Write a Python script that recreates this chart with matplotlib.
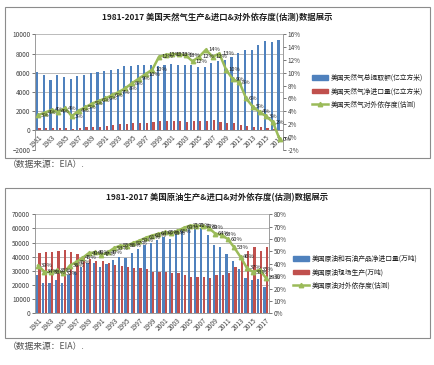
import matplotlib
matplotlib.use("Agg")
import matplotlib.pyplot as plt
import numpy as np
from matplotlib.patches import Rectangle
from matplotlib.lines import Line2D
from matplotlib.patches import Patch

plt.rcParams['font.family'] = ['Noto Sans CJK SC', 'DejaVu Sans']

years = list(range(1981, 2018))

# 天然气 (亿立方米, %)
gas_output = [6110, 5750, 5290, 5740, 5550, 5400, 5690, 5800, 5960, 6090,
              6150, 6250, 6430, 6670, 6710, 6820, 6850, 6820, 6720, 6840,
              6930, 6780, 6830, 6780, 6640, 6650, 6980, 7250, 7375, 7590,
              8070, 8360, 8350, 8890, 9310, 9250, 9430]
gas_import = [255, 263, 260, 224, 252, 195, 266, 345, 359, 410,
              464, 543, 625, 696, 761, 787, 804, 846, 968, 1002,
              1019, 990, 923, 962, 1022, 979, 1073, 843, 758, 736,
              555, 430, 371, 331, 269, 190, -40]
gas_dep = [3.4, 3.8, 4.2, 3.9, 4.5, 3.2, 4.1, 4.6, 5.2, 5.6,
           6.0, 6.5, 7.0, 7.6, 8.4, 9.1, 9.8, 10.5, 12.5, 12.8,
           12.9, 12.9, 12.7, 11.8, 12.5, 13.6, 12.5, 13.0, 10.5, 9.0,
           8.5, 6.0, 4.7, 3.9, 3.2, 2.3, -0.4]

# 原油 (万吨, %)
oil_import = [26900, 21400, 21500, 23500, 21400, 27100, 29400, 32800, 35900, 35700,
              33000, 34600, 37900, 40100, 39300, 42300, 45600, 48600, 49400, 51900,
              54300, 52500, 56000, 60300, 62500, 61700, 60000, 55300, 48200, 47000,
              42100, 36800, 31100, 25200, 23500, 23900, 18800]
oil_output = [42850, 43250, 43450, 44400, 44850, 43400, 41750, 40700, 38050, 36800,
              37100, 35850, 34250, 33300, 32800, 32300, 32250, 31250, 29400, 29100,
              29000, 28700, 28250, 27200, 25900, 25450, 25400, 25000, 26750, 27400,
              28250, 32500, 37350, 43800, 47150, 44150, 46750]
oil_dep = [38.6, 33.5, 33.1, 34.6, 32.3, 38.5, 41.4, 44.7, 48.6, 49.3,
           47.2, 49.2, 52.7, 54.7, 54.6, 56.8, 58.7, 61.0, 62.8, 64.2,
           65.3, 64.8, 66.5, 69.0, 70.8, 70.9, 70.3, 69.0, 64.4, 63.3,
           59.9, 53.2, 45.5, 36.7, 33.3, 35.2, 28.7]

W, H = 435, 365
BLUE = '#4F81BD'
RED = '#C0504D'
GREEN = '#9BBB59'
GRID = '#B0B0B0'
TXT = '#404040'

fig = plt.figure(figsize=(W / 100, H / 100), dpi=100)


def rect(x0, y0, x1, y1):
    # pixel box (top-left origin) -> figure fraction
    return [x0 / W, 1 - y1 / H, (x1 - x0) / W, (y1 - y0) / H]


def panel(frame, plot, title, title_y, b1, b2, dep, names, ylim, ystep, rlim, rstep,
          leg_xy, bw):
    fr = rect(*frame)
    fig.add_artist(Rectangle(fr[:2], fr[2], fr[3], transform=fig.transFigure,
                             fill=False, edgecolor='#8C8C8C', lw=0.8))
    fig.text((frame[0] + frame[2]) / 2 / W, 1 - title_y / H, title, ha='center', va='center',
             fontsize=6, fontweight='bold', color='#202020')

    ax = fig.add_axes(rect(*plot))
    x = np.arange(len(years))
    ax.bar(x - bw / 2 - 0.02, b1, width=bw, color=BLUE, zorder=2)
    ax.bar(x + bw / 2 + 0.02, b2, width=bw, color=RED, zorder=2)
    ax.set_xlim(-0.5, len(years) - 0.5)
    ax.set_ylim(*ylim)
    ax.set_yticks(np.arange(ylim[0], ylim[1] + 1, ystep))
    ax.yaxis.grid(True, color=GRID, lw=0.6, zorder=0)
    ax.set_axisbelow(True)
    for s in ['top', 'right']:
        ax.spines[s].set_visible(False)
    ax.spines['left'].set_color('#8C8C8C')
    ax.spines['left'].set_linewidth(0.6)
    ax.spines['bottom'].set_position(('data', 0))
    ax.spines['bottom'].set_color('#8C8C8C')
    ax.spines['bottom'].set_linewidth(0.6)
    # tick labels after moving the spine (moving it resets the ticks)
    ax.tick_params(axis='y', labelsize=4.6, colors=TXT, length=2, width=0.5, pad=1.5)
    ax.set_xticks(x[::2])
    ax.set_xticklabels(years[::2])
    ax.tick_params(axis='x', labelsize=4.8, colors=TXT, length=0, pad=2)
    plt.setp(ax.get_xticklabels(), rotation=45, ha='right', va='top', rotation_mode='anchor')

    ax2 = ax.twinx()
    ax2.plot(x, dep, color=GREEN, lw=1.8, marker='^', ms=3.2, zorder=3)
    for xi, v in zip(x, dep):
        ax2.annotate(f"{int(round(v))}%", (xi, v), xytext=(2, 0), textcoords='offset points',
                     fontsize=4.2, va='center', ha='left', color='#202020')
    ax2.set_ylim(*rlim)
    ticks = np.arange(rlim[0], rlim[1] + 0.01, rstep)
    ax2.set_yticks(ticks)
    ax2.set_yticklabels([f"{int(round(t))}%" for t in ticks])
    ax2.tick_params(axis='y', labelsize=4.6, colors=TXT, length=2, width=0.5, pad=1.5)
    for s in ['top', 'left', 'bottom']:
        ax2.spines[s].set_visible(False)
    ax2.spines['right'].set_color('#8C8C8C')
    ax2.spines['right'].set_linewidth(0.6)

    handles = [Patch(color=BLUE), Patch(color=RED),
               Line2D([], [], color=GREEN, lw=1.8, marker='^', ms=3.2)]
    fig.legend(handles, names, loc='upper left', bbox_to_anchor=(leg_xy[0] / W, 1 - leg_xy[1] / H),
               frameon=False, fontsize=4.9, handlelength=2.3, handleheight=0.6,
               handletextpad=0.4, labelspacing=0.75, borderpad=0, borderaxespad=0,
               labelcolor='#202020')


panel((5, 7, 430, 158), (35, 34.3, 283, 149.7),
      '1981-2017 美国天然气生产&进口&对外依存度(估测)数据展示', 18,
      gas_output, gas_import, gas_dep,
      ['美国天然气总提取额(亿立方米)', '美国天然气净进口量(亿立方米)', '美国天然气对外依存度(估测)'],
      (-2000, 10000), 2000, (-2, 16), 2, (312, 74), 0.32)

panel((5, 188, 430, 338), (35, 214.3, 269, 313.3),
      '1981-2017 美国原油生产&进口&对外依存度(估测)数据展示', 198,
      oil_import, oil_output, oil_dep,
      ['美国原油和石油产品净进口量(万吨)', '美国原油现场生产(万吨)', '美国原油对外依存度(估测)'],
      (0, 70000), 10000, (0, 80), 10, (293, 255), 0.36)

fig.text(8 / W, 1 - 165 / H, '（数据来源：EIA）.', fontsize=6.3, color='#505050', va='center')
fig.text(8 / W, 1 - 346 / H, '（数据来源：EIA）.', fontsize=6.3, color='#505050', va='center')

fig.savefig('out.png', dpi=100)
